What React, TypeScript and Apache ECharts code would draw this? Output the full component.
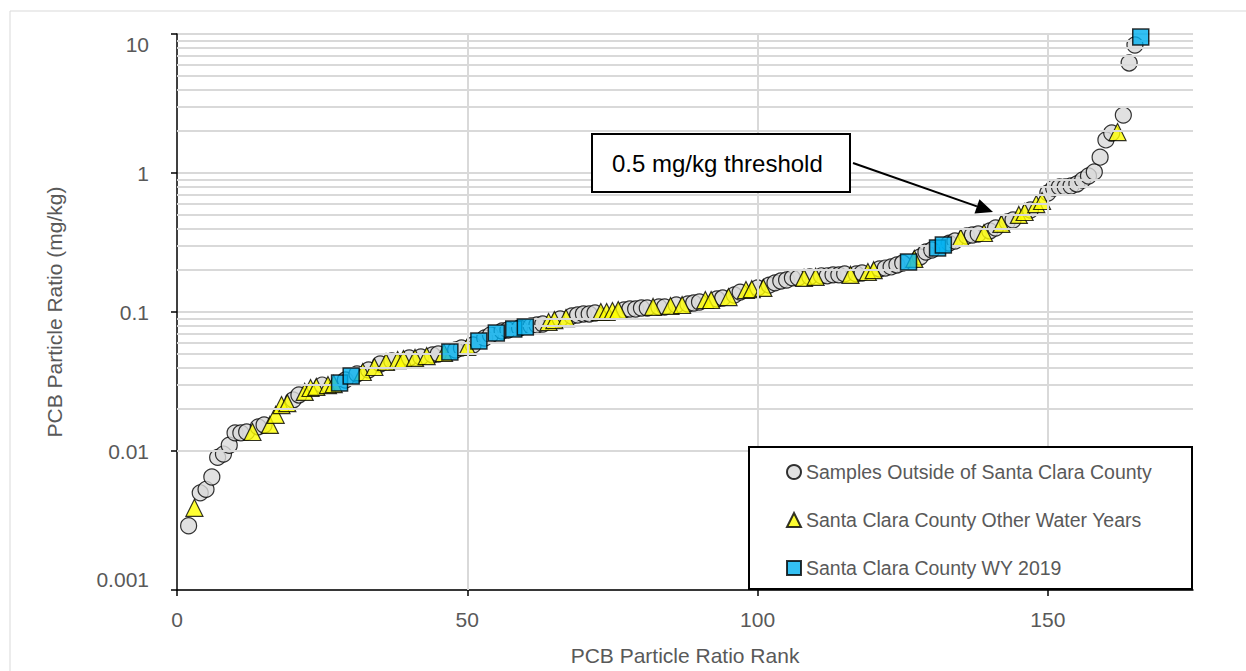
import React, { useEffect, useRef } from "react";
import * as echarts from "echarts";

// [rank, PCB particle ratio mg/kg]
const outsideSamples: [number, number][] = [
  [2, 0.0029], [4, 0.005], [5, 0.0053], [6, 0.0065], [7, 0.009], [8, 0.0095], [9, 0.011],
  [10, 0.0135], [11, 0.0135], [12, 0.0137], [14, 0.0149], [15, 0.0154], [20, 0.0233],
  [21, 0.0253], [25, 0.0298], [29, 0.0324], [31, 0.0358], [33, 0.0383], [35, 0.0423],
  [37, 0.0444], [40, 0.0467], [42, 0.0475], [44, 0.0491], [45, 0.0499], [48, 0.0533],
  [49, 0.0551], [51, 0.0579], [53, 0.065], [54, 0.0684], [56, 0.073], [57, 0.0742],
  [59, 0.0767], [61, 0.0793], [62, 0.0806], [63, 0.082], [66, 0.0891], [68, 0.0936],
  [69, 0.0951], [70, 0.0968], [71, 0.0968], [72, 0.0984], [77, 0.1034], [78, 0.1051],
  [79, 0.1051], [80, 0.1069], [81, 0.1069], [83, 0.1087], [84, 0.1087], [86, 0.1123],
  [88, 0.1142], [89, 0.1161], [90, 0.118], [93, 0.124], [94, 0.126], [96, 0.1325],
  [97, 0.139], [100, 0.149], [102, 0.156], [103, 0.162], [104, 0.167], [105, 0.17],
  [106, 0.176], [107, 0.176], [109, 0.179], [111, 0.182], [112, 0.182], [113, 0.185],
  [114, 0.185], [115, 0.188], [117, 0.188], [118, 0.191], [121, 0.204], [122, 0.207],
  [123, 0.211], [124, 0.218], [125, 0.225], [128, 0.249], [129, 0.27], [130, 0.279],
  [133, 0.313], [134, 0.324], [136, 0.352], [137, 0.358], [138, 0.364], [140, 0.383],
  [141, 0.402], [143, 0.444], [144, 0.459], [147, 0.542], [150, 0.718], [151, 0.78],
  [152, 0.793], [153, 0.793], [154, 0.806], [155, 0.834], [156, 0.891], [157, 0.952],
  [158, 1.017], [159, 1.3], [160, 1.73], [161, 1.94], [163, 2.61], [164, 6.19], [165, 8.33],
];

const otherWaterYears: [number, number][] = [
  [3, 0.0039], [13, 0.0137], [16, 0.0154], [17, 0.0182], [18, 0.0214], [19, 0.0221],
  [22, 0.0266], [23, 0.0284], [24, 0.0289], [26, 0.0298], [27, 0.0303], [32, 0.037],
  [34, 0.0402], [36, 0.0437], [38, 0.0451], [39, 0.0459], [41, 0.0467], [43, 0.0482],
  [46, 0.0507], [50, 0.056], [64, 0.0847], [65, 0.0875], [67, 0.0905], [73, 0.1],
  [74, 0.1], [75, 0.1017], [76, 0.1034], [82, 0.1087], [85, 0.1105], [87, 0.1123],
  [91, 0.122], [92, 0.122], [95, 0.128], [98, 0.144], [99, 0.146], [101, 0.149],
  [108, 0.176], [110, 0.179], [116, 0.185], [119, 0.194], [120, 0.2], [127, 0.241],
  [135, 0.341], [139, 0.37], [142, 0.43], [145, 0.499], [146, 0.524], [148, 0.598],
  [149, 0.629], [162, 1.97],
];

const wy2019: [number, number][] = [
  [28, 0.0308], [30, 0.0346], [47, 0.0515], [52, 0.0618], [55, 0.0706], [58, 0.0755],
  [60, 0.078], [126, 0.229], [131, 0.289], [132, 0.303], [166, 9.51],
];

const seriesNames = [
  "Samples Outside of Santa Clara County",
  "Santa Clara County Other Water Years",
  "Santa Clara County WY 2019",
];

const xTickValues = [0, 50, 100, 150];
const decades = [0.001, 0.01, 0.1, 1];
const minorMultipliers = [2, 3, 4, 5, 6, 7, 8, 9];
const annotationText = "0.5 mg/kg threshold";

const FONT = "'Liberation Sans', Arial, sans-serif";
const GRID_COLOR = "#d9d9d9";
const TEXT_COLOR = "#595959";

export default function App() {
  const ref = useRef<HTMLDivElement>(null);

  useEffect(() => {
    if (!ref.current) return;
    const chart = echarts.init(ref.current, undefined, { renderer: "svg" });

    const minorLines: { yAxis: number }[] = [];
    decades.forEach((d) =>
      minorMultipliers.forEach((m) => minorLines.push({ yAxis: Number((d * m).toPrecision(3)) }))
    );
    const verticalLines = xTickValues.filter((v) => v > 0).map((v) => ({ xAxis: v }));

    // arrow geometry (annotation)
    const ax0 = 853, ay0 = 163, ax1 = 993, ay1 = 212;
    const dx = ax1 - ax0, dy = ay1 - ay0;
    const len = Math.sqrt(dx * dx + dy * dy);
    const ux = dx / len, uy = dy / len;
    const headL = 17, headW = 7.5;
    const bx = ax1 - ux * headL, by = ay1 - uy * headL;

    const markerBorder = { borderColor: "#000", borderWidth: 1.2 };

    chart.setOption({
      animation: false,
      backgroundColor: "#fff",
      textStyle: { fontFamily: FONT },
      grid: { left: 177, top: 34, right: 53, bottom: 81, containLabel: false },
      xAxis: {
        type: "value",
        min: 0,
        max: 175,
        interval: 50,
        axisLine: { show: true, onZero: false, lineStyle: { color: "#000", width: 1.5 } },
        axisTick: { show: true, length: 6, customValues: xTickValues, lineStyle: { color: "#000", width: 1.5 } },
        axisLabel: { customValues: xTickValues, color: TEXT_COLOR, fontSize: 21, margin: 19, fontFamily: FONT },
        splitLine: { show: false },
        name: "PCB Particle Ratio Rank",
        nameLocation: "middle",
        nameGap: 55,
        nameTextStyle: { color: TEXT_COLOR, fontSize: 21, fontFamily: FONT },
      },
      yAxis: {
        type: "log",
        logBase: 10,
        min: 0.001,
        max: 10,
        axisLine: { show: true, lineStyle: { color: "#000", width: 1.5 } },
        axisTick: { show: true, length: 6, lineStyle: { color: "#000", width: 1.5 } },
        axisLabel: {
          color: TEXT_COLOR,
          fontSize: 21,
          margin: 28,
          fontFamily: FONT,
          verticalAlignMaxLabel: "top",
          verticalAlignMinLabel: "bottom",
          formatter: (v: number) => String(Number(v.toPrecision(3))),
        },
        splitLine: { show: true, lineStyle: { color: GRID_COLOR, width: 2 } },
        minorTick: { show: false },
        name: "PCB Particle Ratio (mg/kg)",
        nameLocation: "middle",
        nameGap: 112,
        nameTextStyle: { color: TEXT_COLOR, fontSize: 21, fontFamily: FONT },
      },
      legend: {
        data: seriesNames,
        orient: "vertical",
        left: 786,
        top: 462,
        padding: 0,
        itemWidth: 14,
        itemHeight: 14,
        itemGap: 28,
        z: 120,
        textStyle: { color: TEXT_COLOR, fontSize: 19.5, lineHeight: 20, fontFamily: FONT },
      },
      series: [
        {
          name: "grid-lines",
          type: "line",
          data: [],
          z: 1,
          silent: true,
          markLine: {
            silent: true,
            symbol: "none",
            label: { show: false },
            animation: false,
            lineStyle: { color: GRID_COLOR, width: 2, type: "solid" },
            data: [...minorLines, ...verticalLines],
          },
        },
        {
          name: seriesNames[0],
          type: "scatter",
          symbol: "circle",
          symbolSize: 16,
          z: 3,
          itemStyle: { color: "#d9d9d9", ...markerBorder },
          data: outsideSamples,
        },
        {
          name: seriesNames[1],
          type: "scatter",
          symbol: "triangle",
          symbolSize: 17,
          z: 4,
          itemStyle: { color: "#ffff00", ...markerBorder },
          data: otherWaterYears,
        },
        {
          name: seriesNames[2],
          type: "scatter",
          symbol: "rect",
          symbolSize: 16,
          z: 5,
          itemStyle: { color: "#00b0f0", borderColor: "#000", borderWidth: 1.5 },
          data: wy2019,
        },
      ],
      graphic: [
        {
          type: "rect",
          z: 0,
          silent: true,
          shape: { x: 10, y: 11, width: 1300, height: 700 },
          style: { fill: "none", stroke: "#d9d9d9", lineWidth: 1 },
        },
        {
          type: "rect",
          z: 100,
          silent: true,
          shape: { x: 749, y: 447, width: 443, height: 142 },
          style: { fill: "#fff", stroke: "#000", lineWidth: 2 },
        },
        {
          type: "rect",
          z: 100,
          silent: true,
          shape: { x: 592, y: 134, width: 258, height: 58 },
          style: { fill: "#fff", stroke: "#000", lineWidth: 2 },
        },
        {
          type: "text",
          z: 101,
          silent: true,
          x: 612,
          y: 163,
          style: {
            text: annotationText,
            fill: "#000",
            font: `24px ${FONT}`,
            verticalAlign: "middle",
            align: "left",
          },
        },
        {
          type: "line",
          z: 100,
          silent: true,
          shape: { x1: ax0, y1: ay0, x2: bx, y2: by },
          style: { stroke: "#000", lineWidth: 2 },
        },
        {
          type: "polygon",
          z: 100,
          silent: true,
          shape: {
            points: [
              [ax1, ay1],
              [bx - uy * headW, by + ux * headW],
              [bx + uy * headW, by - ux * headW],
            ],
          },
          style: { fill: "#000" },
        },
      ],
    });

    return () => chart.dispose();
  }, []);

  return (
    <div
      ref={ref}
      style={{ position: "fixed", left: 0, top: 0, width: 1246, height: 671, background: "#fff" }}
    />
  );
}
